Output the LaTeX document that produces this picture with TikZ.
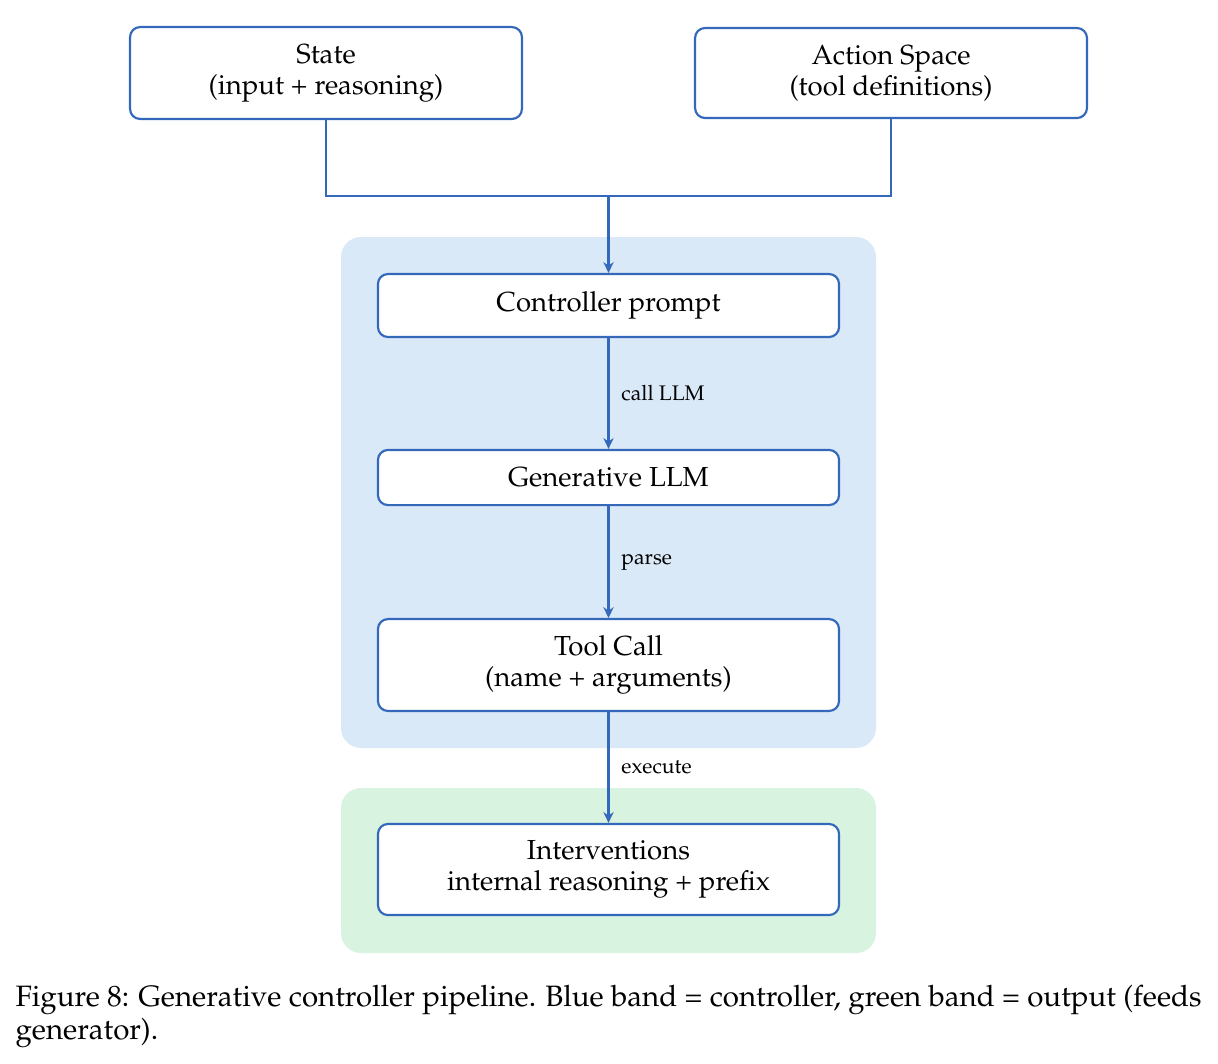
\documentclass[tikz,border=0pt]{standalone}
\usepackage[T1]{fontenc}
\usepackage{mathpazo}
\usetikzlibrary{arrows.meta}

\definecolor{lineblue}{RGB}{52,104,186}
\definecolor{bandblue}{RGB}{218,233,248}
\definecolor{bandgreen}{RGB}{216,243,224}

\tikzset{
  box/.style={draw=lineblue, line width=0.8pt, fill=white, rounded corners=3.7pt,
    align=center, inner sep=0pt, font=\fontsize{10.2}{11.5}\selectfont},
  wire/.style={draw=lineblue, line width=0.8pt},
  flow/.style={wire, -{Stealth[length=4pt,width=3.8pt]}},
  lbl/.style={font=\fontsize{7.8}{9}\selectfont, inner sep=0pt, right=4.4pt}
}

\begin{document}
\begin{tikzpicture}[x=0.37pt, y=-0.37pt]
\useasboundingbox (0,0) rectangle (1218,1063);
% bands
\fill[bandblue, rounded corners=7.4pt] (341,237) rectangle (876,748);
\fill[bandgreen, rounded corners=7.4pt] (341,788) rectangle (876,953);
% inputs
\node[box, minimum width=145pt, minimum height=34pt] (state) at (326,73) {State\\(input + reasoning)};
\node[box, minimum width=145pt, minimum height=33.3pt] (actions) at (891,73) {Action Space\\(tool definitions)};
\coordinate (join) at (608.5,196);
% pipeline
\node[box, minimum width=170.6pt, minimum height=23.3pt] (prompt) at (608.5,305.5) {Controller prompt};
\node[box, minimum width=170.6pt, minimum height=20.4pt] (llm) at (608.5,477.5) {Generative LLM};
\node[box, minimum width=170.6pt, minimum height=34pt] (toolcall) at (608.5,665) {Tool Call\\(name + arguments)};
\node[box, minimum width=170.6pt, minimum height=33.7pt] (interv) at (608.5,869.5) {Interventions\\internal reasoning + prefix};
% connectors
\draw[wire] (state.south) |- (join) -| (actions.south);
\draw[flow] (join) -- (prompt);
\draw[flow] (prompt) -- node[lbl] {call LLM} (llm);
\draw[flow] (llm) -- node[lbl] {parse} (toolcall);
\draw[flow] (toolcall) -- node[lbl] {execute} (interv);
% caption
\node[anchor=north west, inner sep=0pt, align=left, font=\fontsize{10.9}{11.9}\selectfont] (caption) at (15,985)
  {Figure 8: Generative controller pipeline. Blue band = controller, green band = output (feeds\\generator).};
\end{tikzpicture}
\end{document}
